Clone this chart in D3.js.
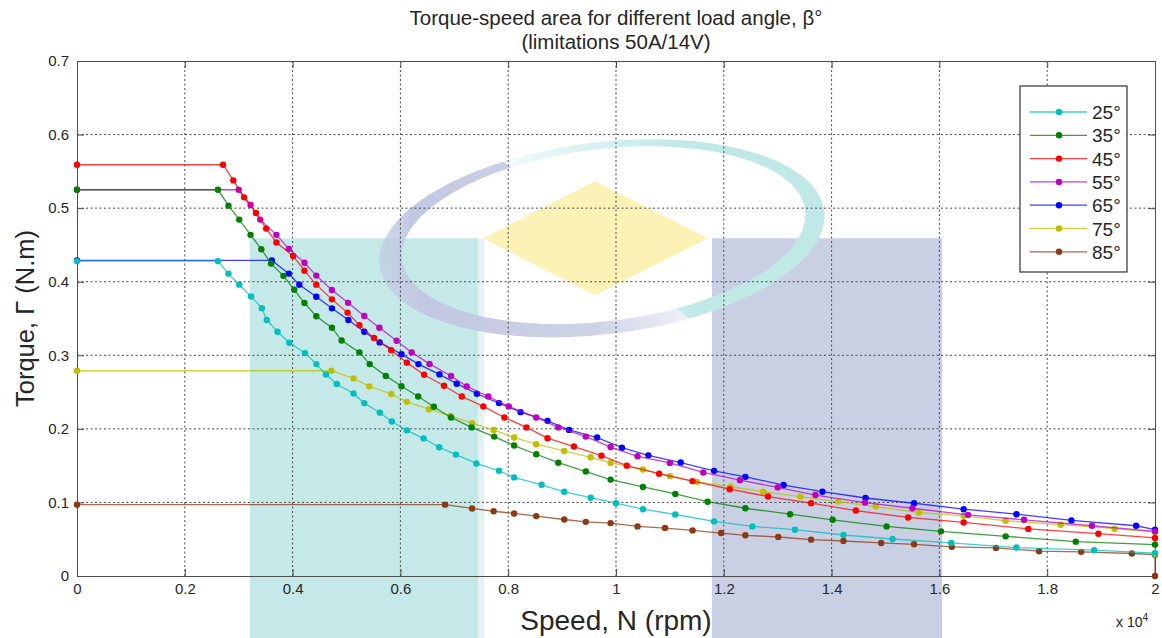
<!DOCTYPE html>
<html>
<head>
<meta charset="utf-8">
<script src="https://cdnjs.cloudflare.com/ajax/libs/d3/7.8.5/d3.min.js"></script>
<style>
  body { margin: 0; background: #fff; }
  text { font-family: "Liberation Sans", Arial, sans-serif; fill: #262626; }
</style>
</head>
<body>
<div id="chart"></div>
<script>
  // series labels and colours (drawn in reverse order, 85° first)
  var angles = ["25°", "35°", "45°", "55°", "65°", "75°", "85°"];
  var colors = ["#00bfbf", "#008000", "#ff0000", "#bf00bf", "#0000ff", "#bfbf00", "#8c3a14"];

  var xTicks = [0, 2000, 4000, 6000, 8000, 10000, 12000, 14000, 16000, 18000, 20000];
  var xTickLabels = ["0", "0.2", "0.4", "0.6", "0.8", "1", "1.2", "1.4", "1.6", "1.8", "2"];
  var yTicks = [0, 0.1, 0.2, 0.3, 0.4, 0.5, 0.6, 0.7];
  var yTickLabels = ["0", "0.1", "0.2", "0.3", "0.4", "0.5", "0.6", "0.7"];

  // [speed (rpm), torque (N.m)]
  var beta25 = [[0, 0.428], [2615, 0.428], [2810, 0.411], [3010, 0.396], [3230, 0.380], [3430, 0.364],
    [3520, 0.348], [3720, 0.332], [3940, 0.317], [4230, 0.303], [4440, 0.288], [4620, 0.274],
    [4820, 0.261], [5130, 0.248], [5330, 0.235], [5620, 0.222], [5840, 0.210], [6120, 0.198],
    [6430, 0.187], [6720, 0.175], [7030, 0.165], [7410, 0.153], [7830, 0.143], [8110, 0.134],
    [8620, 0.124], [9040, 0.1145], [9530, 0.1064], [10000, 0.0989], [10500, 0.0908], [11100, 0.0836],
    [11820, 0.0742], [12530, 0.0674], [13320, 0.0629], [14220, 0.0557], [15130, 0.0503],
    [16220, 0.0449], [17430, 0.0387], [18870, 0.0351], [20000, 0.031]];
  var beta35 = [[0, 0.525], [2615, 0.525], [2810, 0.5034], [3010, 0.4844], [3220, 0.4637], [3420, 0.4442],
    [3600, 0.4248], [3830, 0.408], [4030, 0.389], [4220, 0.371], [4440, 0.353], [4730, 0.3375],
    [4910, 0.320], [5240, 0.304], [5430, 0.288], [5730, 0.272], [6020, 0.258], [6330, 0.244],
    [6620, 0.230], [6940, 0.2155], [7320, 0.202], [7740, 0.1895], [8110, 0.1773], [8520, 0.1655],
    [8930, 0.154], [9440, 0.142], [9900, 0.131], [10500, 0.121], [11100, 0.1115], [11700, 0.101],
    [12400, 0.0921], [13230, 0.084], [14020, 0.0764], [15020, 0.0674], [16030, 0.0607],
    [17230, 0.0539], [18530, 0.0467], [20000, 0.0427]];
  var beta45 = [[0, 0.559], [2710, 0.559], [2900, 0.5377], [3100, 0.5147], [3320, 0.4935], [3510, 0.4722],
    [3700, 0.4533], [4010, 0.435], [4220, 0.415], [4440, 0.396], [4730, 0.376], [5020, 0.358],
    [5240, 0.341], [5510, 0.3236], [5830, 0.307], [6120, 0.290], [6440, 0.2736], [6810, 0.2586],
    [7140, 0.244], [7540, 0.2305], [7930, 0.2155], [8340, 0.202], [8730, 0.1873], [9220, 0.176],
    [9730, 0.1636], [10200, 0.150], [10800, 0.139], [11420, 0.129], [12110, 0.118], [12820, 0.108],
    [13620, 0.099], [14450, 0.089], [15420, 0.0796], [16450, 0.0728], [17650, 0.064],
    [18950, 0.0575], [20000, 0.0517]];
  var beta55 = [[0, 0.525], [3000, 0.525], [3220, 0.5043], [3400, 0.4844], [3700, 0.4637], [3930, 0.4447],
    [4220, 0.4258], [4440, 0.4083], [4730, 0.3887], [5030, 0.3713], [5330, 0.3533], [5610, 0.3374],
    [5930, 0.3198], [6210, 0.3039], [6540, 0.2883], [6940, 0.2718], [7230, 0.2577], [7630, 0.244],
    [8010, 0.2305], [8520, 0.2155], [8930, 0.202], [9440, 0.1895], [9900, 0.1753], [10400, 0.1627],
    [11000, 0.1537], [11620, 0.1407], [12300, 0.1303], [13000, 0.1204], [13700, 0.110],
    [14620, 0.0998], [15500, 0.0921], [16530, 0.0831], [17570, 0.0764], [18830, 0.0683],
    [20000, 0.0607]];
  var beta65 = [[0, 0.429], [3615, 0.429], [3930, 0.411], [4125, 0.396], [4440, 0.3795], [4730, 0.3638],
    [5035, 0.348], [5330, 0.332], [5615, 0.3175], [6020, 0.3015], [6335, 0.288], [6725, 0.274],
    [7045, 0.2614], [7420, 0.2477], [7830, 0.235], [8230, 0.2227], [8730, 0.2109], [9130, 0.1986],
    [9650, 0.1882], [10110, 0.1744], [10600, 0.164], [11200, 0.1542], [11820, 0.1429],
    [12400, 0.1348], [13110, 0.1236], [13830, 0.1146], [14630, 0.106], [15530, 0.0989],
    [16450, 0.0908], [17430, 0.084], [18450, 0.0755], [19650, 0.0683], [20000, 0.0629]];
  var beta75 = [[0, 0.279], [4720, 0.279], [5130, 0.2686], [5425, 0.2578], [5830, 0.2474], [6120, 0.2367],
    [6530, 0.2267], [6925, 0.2177], [7330, 0.2077], [7730, 0.1986], [8110, 0.1882], [8520, 0.1791],
    [9040, 0.170], [9530, 0.1614], [9900, 0.1537], [10500, 0.1447], [11000, 0.1357], [11500, 0.128],
    [12130, 0.1213], [12730, 0.1146], [13420, 0.1079], [14120, 0.1011], [14820, 0.0944],
    [15620, 0.0863], [16450, 0.0818], [17230, 0.0751], [18250, 0.0697], [19250, 0.0643],
    [20000, 0.0598], [20000, 0.030]];
  var beta85 = [[0, 0.097], [6830, 0.097], [7330, 0.0918], [7730, 0.088], [8110, 0.085], [8520, 0.0814],
    [9040, 0.0768], [9440, 0.0736], [9900, 0.0719], [10400, 0.0674], [10910, 0.0652], [11420, 0.062],
    [11950, 0.0584], [12400, 0.0553], [13010, 0.053], [13620, 0.0494], [14220, 0.0476],
    [14920, 0.0449], [15530, 0.0431], [16230, 0.0396], [17050, 0.0382], [17850, 0.0337],
    [18630, 0.0328], [19570, 0.0306], [20000, 0.029], [20000, 0]];

  var series = [beta25, beta35, beta45, beta55, beta65, beta75, beta85];

  // set the dimensions and margins of the graph
  var margin = {top: 61, right: 7, bottom: 62, left: 77},
      width = 1162 - margin.left - margin.right,
      height = 638 - margin.top - margin.bottom;

  var root = d3.select("#chart")
    .append("svg")
    .attr("width", 1162)
    .attr("height", 638);

  var svg = root.append("g")
    .attr("transform", "translate(" + margin.left + "," + margin.top + ")");

  var x = d3.scaleLinear().domain([0, 20000]).range([0, width]);
  var y = d3.scaleLinear().domain([0, 0.7]).range([height, 0]);

  // ---- background watermark (behind everything) ----
  var defs = root.append("defs");
  var lav = defs.append("linearGradient").attr("id", "lav")
    .attr("gradientUnits", "userSpaceOnUse")
    .attr("x1", x(5500)).attr("y1", 0).attr("x2", x(12000)).attr("y2", 0);
  lav.append("stop").attr("offset", 0).attr("stop-color", "#c3c8e2").attr("stop-opacity", 0.6);
  lav.append("stop").attr("offset", 0.12).attr("stop-color", "#c3c8e2").attr("stop-opacity", 1);
  lav.append("stop").attr("offset", 0.6).attr("stop-color", "#c3c8e2").attr("stop-opacity", 0.8);
  lav.append("stop").attr("offset", 1).attr("stop-color", "#c3c8e2").attr("stop-opacity", 0);
  var cya = defs.append("linearGradient").attr("id", "cya")
    .attr("gradientUnits", "userSpaceOnUse")
    .attr("x1", x(7200)).attr("y1", 0).attr("x2", x(11500)).attr("y2", 0);
  cya.append("stop").attr("offset", 0).attr("stop-color", "#bfe8e7").attr("stop-opacity", 0);
  cya.append("stop").attr("offset", 1).attr("stop-color", "#bfe8e7").attr("stop-opacity", 1);

  defs.append("clipPath").attr("id", "clipCya")
    .append("path")
    .attr("d", "M" + x(6900) + "," + (y(0.62) - 40) + "L" + x(17000) + "," + (y(0.62) - 40) +
      "L" + x(17000) + "," + y(0.19) + "L" + x(13000) + "," + y(0.19) + "Z");
  defs.append("clipPath").attr("id", "clipLav")
    .append("path")
    .attr("d", "M" + x(6900) + "," + (y(0.62) - 40) + "L" + x(13000) + "," + y(0.19) +
      "L" + x(3000) + "," + y(0.19) + "L" + x(3000) + "," + (y(0.62) - 40) + "Z");

  var wm = svg.append("g").attr("class", "watermark");

  // two shaded bands that run off the bottom of the page
  wm.append("rect")
    .attr("x", x(3210)).attr("y", y(0.459))
    .attr("width", x(7440) - x(3210)).attr("height", 638 - margin.top - y(0.459))
    .attr("fill", "#c4e9e8");
  wm.append("rect")
    .attr("x", x(7440)).attr("y", y(0.459))
    .attr("width", 6).attr("height", 638 - margin.top - y(0.459))
    .attr("fill", "#e4f4f4");
  wm.append("rect")
    .attr("x", x(11780)).attr("y", y(0.459))
    .attr("width", x(16050) - x(11780)).attr("height", 638 - margin.top - y(0.459))
    .attr("fill", "#c9d0e4");

  // yellow diamond
  var dcx = x(9610), dcy = y(0.459);
  wm.append("path")
    .attr("d", "M" + dcx + "," + (dcy - 57) + "L" + (dcx + 113) + "," + dcy +
      "L" + dcx + "," + (dcy + 57) + "L" + (dcx - 112) + "," + dcy + "Z")
    .attr("fill", "#fcf2b6");

  // swoosh ring: outer ellipse minus inner ellipse
  function ellipsePath(cx, cy, rx, ry) {
    return "M" + (cx - rx) + "," + cy +
      "a" + rx + "," + ry + " 0 1,0 " + (2 * rx) + ",0" +
      "a" + rx + "," + ry + " 0 1,0 " + (-2 * rx) + ",0Z";
  }
  var ecx = x(9740), ecy = y(0.459);
  var ring = ellipsePath(ecx, ecy, 224, 96) + ellipsePath(ecx + 2, ecy - 3, 203, 86);
  wm.append("path")
    .attr("d", ring)
    .attr("fill-rule", "evenodd")
    .attr("fill", "url(#lav)")
    .attr("clip-path", "url(#clipLav)")
    .attr("transform", "rotate(-7," + ecx + "," + ecy + ")");
  wm.append("path")
    .attr("d", ring)
    .attr("fill-rule", "evenodd")
    .attr("fill", "url(#cya)")
    .attr("clip-path", "url(#clipCya)")
    .attr("transform", "rotate(-7," + ecx + "," + ecy + ")");

  // ---- grid ----
  svg.append("g")
    .selectAll("line")
    .data(xTicks.slice(1, -1))
    .enter()
    .append("line")
    .attr("x1", d => x(d)).attr("x2", d => x(d))
    .attr("y1", 0).attr("y2", height)
    .attr("stroke", "#4a4a4a")
    .attr("stroke-dasharray", "2,2.5");
  svg.append("g")
    .selectAll("line")
    .data(yTicks.slice(1, -1))
    .enter()
    .append("line")
    .attr("x1", 0).attr("x2", width)
    .attr("y1", d => y(d)).attr("y2", d => y(d))
    .attr("stroke", "#4a4a4a")
    .attr("stroke-dasharray", "2,2.5");

  // ---- axes (ticks on all four sides, pointing inwards) ----
  svg.append("g")
    .attr("transform", "translate(0," + height + ")")
    .call(d3.axisBottom(x).tickValues(xTicks).tickSizeInner(-7).tickSizeOuter(0).tickPadding(7)
      .tickFormat((d, i) => xTickLabels[i]));
  svg.append("g")
    .call(d3.axisLeft(y).tickValues(yTicks).tickSizeInner(-7).tickSizeOuter(0).tickPadding(8)
      .tickFormat((d, i) => yTickLabels[i]));
  svg.append("g")
    .call(d3.axisTop(x).tickValues(xTicks).tickSizeInner(-7).tickSizeOuter(0).tickFormat(""));
  svg.append("g")
    .attr("transform", "translate(" + width + ",0)")
    .call(d3.axisRight(y).tickValues(yTicks).tickSizeInner(-7).tickSizeOuter(0).tickFormat(""));

  svg.selectAll(".domain").attr("stroke", "#4d4d4d");
  svg.selectAll(".tick line").attr("stroke", "#4d4d4d");
  svg.selectAll(".tick text")
    .style("font-family", "'Liberation Sans', Arial, sans-serif")
    .style("font-size", "15px")
    .attr("fill", "#3a3a3a");

  // ---- curves ----
  var line = d3.line()
    .x(d => x(d[0]))
    .y(d => y(d[1]));

  var order = d3.range(series.length).reverse();
  order.forEach(function(i) {
    var g = svg.append("g");
    g.append("path")
      .datum(series[i])
      .attr("d", line)
      .attr("fill", "none")
      .attr("stroke", colors[i])
      .attr("stroke-opacity", 0.75)
      .attr("stroke-width", 1.3);
    g.selectAll("circle")
      .data(series[i])
      .enter()
      .append("circle")
      .attr("cx", d => x(d[0]))
      .attr("cy", d => y(d[1]))
      .attr("r", 3.2)
      .attr("fill", colors[i]);
  });

  // ---- legend ----
  var legW = 107, legH = 186;
  var legend = svg.append("g")
    .attr("transform", "translate(" + (width - 135) + "," + 25 + ")");
  legend.append("rect")
    .attr("width", legW).attr("height", legH)
    .attr("fill", "#fff")
    .attr("stroke", "#333")
    .attr("stroke-width", 1.2);
  angles.forEach(function(a, i) {
    var ly = 26 + i * 23.3;
    legend.append("line")
      .attr("x1", 10).attr("x2", 67).attr("y1", ly).attr("y2", ly)
      .attr("stroke", colors[i]).attr("stroke-opacity", 0.75).attr("stroke-width", 1.3);
    legend.append("circle")
      .attr("cx", 39).attr("cy", ly).attr("r", 3.2).attr("fill", colors[i]);
    legend.append("text")
      .attr("x", 72).attr("y", ly + 7)
      .style("font-size", "19px")
      .text(a);
  });

  // ---- titles and labels ----
  root.append("text")
    .attr("x", margin.left + width / 2).attr("y", 25)
    .attr("text-anchor", "middle")
    .style("font-size", "20.5px")
    .text("Torque-speed area for different load angle, β°");
  root.append("text")
    .attr("x", margin.left + width / 2).attr("y", 49)
    .attr("text-anchor", "middle")
    .style("font-size", "20.5px")
    .text("(limitations 50A/14V)");

  root.append("text")
    .attr("x", margin.left + width / 2).attr("y", 630)
    .attr("text-anchor", "middle")
    .style("font-size", "28px")
    .text("Speed, N (rpm)");

  root.append("text")
    .attr("transform", "translate(34," + (margin.top + height / 2) + ")rotate(-90)")
    .attr("text-anchor", "middle")
    .style("font-size", "25.5px")
    .text("Torque, Γ (N.m)");

  var mult = root.append("text")
    .attr("x", 1116).attr("y", 627)
    .style("font-size", "14px");
  mult.append("tspan").text("x 10");
  mult.append("tspan").attr("dy", -6).style("font-size", "10px").text("4");
</script>
</body>
</html>
